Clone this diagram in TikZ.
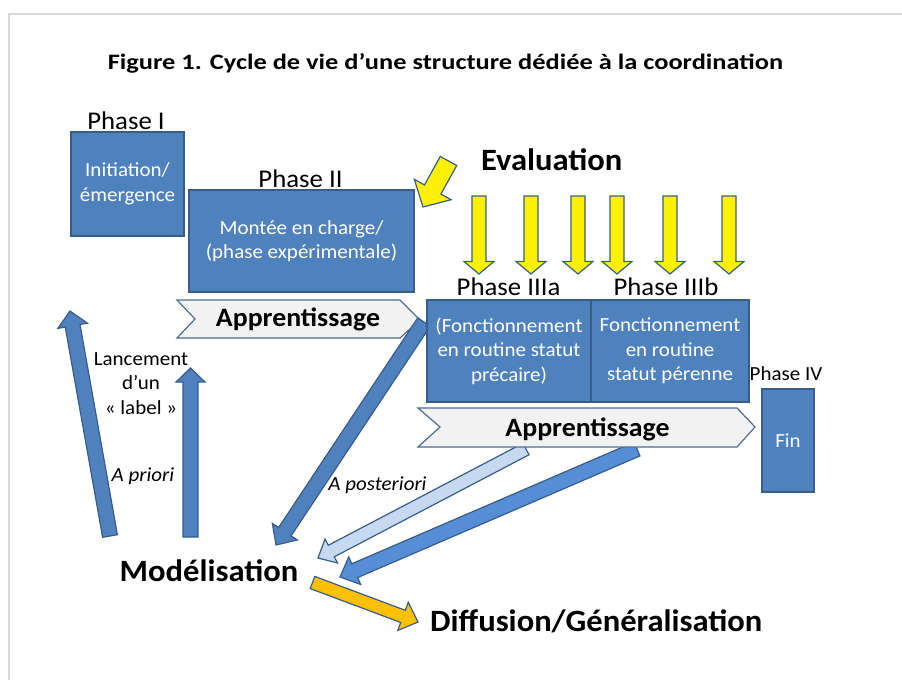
\documentclass[tikz,border=0pt]{standalone}
\usepackage{fontspec}
\setmainfont{Carlito}[FakeStretch=1.05]
\newfontfamily\titlefont{Carlito}[FakeStretch=1.2]
\usetikzlibrary{calc}
\definecolor{boxblue}{HTML}{4F81BD}
\definecolor{edgeblue}{HTML}{385D8A}
\definecolor{chevfill}{HTML}{F2F2F2}
\definecolor{lightblue}{HTML}{C6D9F1}
\definecolor{midblue}{HTML}{558ED5}
\definecolor{orangeF}{HTML}{FFC000}
\definecolor{framegray}{HTML}{D9D9D9}
% #1 style, #2 tail, #3 tip, #4 shaft half width, #5 head half width, #6 head length
\newcommand{\blockarr}[6]{%
  \coordinate (hb) at ($(#3)!#6pt!(#2)$);
  \draw[#1] ($(#2)!#4pt!90:(#3)$) -- ($(hb)!#4pt!90:(#3)$) -- ($(hb)!#5pt!90:(#3)$) -- (#3)
    -- ($(hb)!#5pt!-90:(#3)$) -- ($(hb)!#4pt!-90:(#3)$) -- ($(#2)!#4pt!-90:(#3)$) -- cycle;
}
\begin{document}
\begin{tikzpicture}[x=1pt,y=-1pt,
  box/.style={draw=edgeblue, fill=boxblue, line width=1.2pt, text=white, align=center,
    font=\fontsize{20}{24.5}\selectfont, inner sep=0},
  phaselab/.style={anchor=base, inner sep=0, font=\fontsize{25.5}{30}\selectfont},
  biglab/.style={anchor=base, inner sep=0, font=\bfseries\fontsize{31}{36}\selectfont},
  applab/.style={anchor=base, inner sep=0, font=\bfseries\fontsize{26.5}{30}\selectfont},
  smalllab/.style={inner sep=0, font=\fontsize{20}{24.5}\selectfont},
  yarrow/.style={fill=yellow, draw=edgeblue, line width=1.2pt, line join=miter},
  barrow/.style={fill=boxblue, draw=edgeblue, line width=1.2pt, line join=miter},
  lbarrow/.style={fill=lightblue, draw=edgeblue, line width=1.2pt, line join=miter},
  mbarrow/.style={fill=midblue, draw=edgeblue, line width=1.2pt, line join=miter},
  oarrow/.style={fill=orangeF, draw=edgeblue, line width=1.2pt, line join=miter},
  chev/.style={fill=chevfill, draw=edgeblue!90, line width=1.2pt, line join=miter}]
\useasboundingbox (0,0) rectangle (902,680);
\fill[white] (0,0) rectangle (902,680);
% frame
\draw[framegray, line width=2pt] (9,680) -- (9,14) -- (902,14);

% title
\node[anchor=base, inner sep=0, font=\titlefont\bfseries\fontsize{22}{26}\selectfont] (title) at (445.5,69.5)
  {Figure 1. Cycle de vie d’une structure dédiée à la coordination};

% Phase I and II
\node[phaselab] (lab1) at (126,129.5) {Phase I};
\node[box, minimum width=113pt, minimum height=104pt] (p1) at (127.5,184) {Initiation/\\émergence};
\node[phaselab] (lab2) at (300.5,187) {Phase II};
\node[box, minimum width=225pt, minimum height=102pt] (p2) at (301.5,241) {Montée en charge/\\(phase expérimentale)};

% Evaluation arrows
\node[biglab] (eval) at (551.7,170.7) {Evaluation};
\coordinate (yd0) at (448.5,161);
\coordinate (yd1) at (423,207);
\blockarr{yarrow}{yd0}{yd1}{9.4}{21}{20}
\foreach \i/\xx in {1/479,2/531,3/578,4/617,5/670,6/729}{
  \coordinate (ys\i) at (\xx,196);
  \coordinate (ye\i) at (\xx,274);
  \blockarr{yarrow}{ys\i}{ye\i}{7}{15}{12.5}
}

% Apprentissage 1
\draw[chev] (177,300) -- (400,300) -- (420,320) -- (400,338) -- (177,338) -- (195,319) -- cycle;
\node[applab] (app1) at (298,326.7) {Apprentissage};

% arrow from IIIa to Modelisation
\coordinate (a3t) at (424,322);
\coordinate (a3h) at (276,545);
\blockarr{barrow}{a3t}{a3h}{7.5}{15}{16}

% arrows from Apprentissage 2
\coordinate (lbt) at (526,449);
\coordinate (lbh) at (318,558);
\blockarr{lbarrow}{lbt}{lbh}{6.5}{13.5}{15}
\coordinate (mbt) at (637,449);
\coordinate (mbh) at (340,577);
\blockarr{mbarrow}{mbt}{mbh}{7.5}{15}{16}

% Apprentissage 2
\draw[chev] (418,408) -- (737,408) -- (755,427) -- (737,447) -- (418,447) -- (440,427) -- cycle;
\node[applab] (app2) at (587.5,436.7) {Apprentissage};

% Phase III boxes
\node[phaselab] (lab3a) at (508.5,295) {Phase IIIa};
\node[phaselab] (lab3b) at (666,295) {Phase IIIb};
\node[box, minimum width=164pt, minimum height=102pt] (p3a) at (509,351)
  {(Fonctionnement\\en routine statut\\précaire)};
\node[box, minimum width=158pt, minimum height=102pt] (p3b) at (670,351)
  {Fonctionnement\\en routine\\statut pérenne};

% Phase IV
\node[anchor=base, inner sep=0, font=\fontsize{20}{24}\selectfont] (lab4) at (786,380.7) {Phase IV};
\node[box, minimum width=52pt, minimum height=103pt] (p4) at (788,440.5) {Fin};

% left arrows
\coordinate (lat) at (110,536);
\coordinate (lah) at (70,311);
\blockarr{barrow}{lat}{lah}{7.5}{15}{15}
\coordinate (vat) at (190.5,537);
\coordinate (vah) at (190.5,368);
\blockarr{barrow}{vat}{vah}{7.5}{14.5}{14}

\node[smalllab, anchor=north, align=center] (lanc) at (141,352) {Lancement\\d’un\\« label »};
\node[smalllab, anchor=base, font=\itshape\fontsize{20}{24}\selectfont] (apriori) at (143,481.7) {A priori};
\node[smalllab, anchor=base, font=\itshape\fontsize{20}{24}\selectfont] (apost) at (377.5,490) {A posteriori};

% Modelisation, Diffusion
\node[biglab] (mod) at (209,581.7) {Modélisation};
\coordinate (oat) at (312.5,582.5);
\coordinate (oah) at (418,622);
\blockarr{oarrow}{oat}{oah}{6.5}{15}{16}
\node[biglab, anchor=base west] (diff) at (430,631.7) {Diffusion/Généralisation};
\end{tikzpicture}
\end{document}
